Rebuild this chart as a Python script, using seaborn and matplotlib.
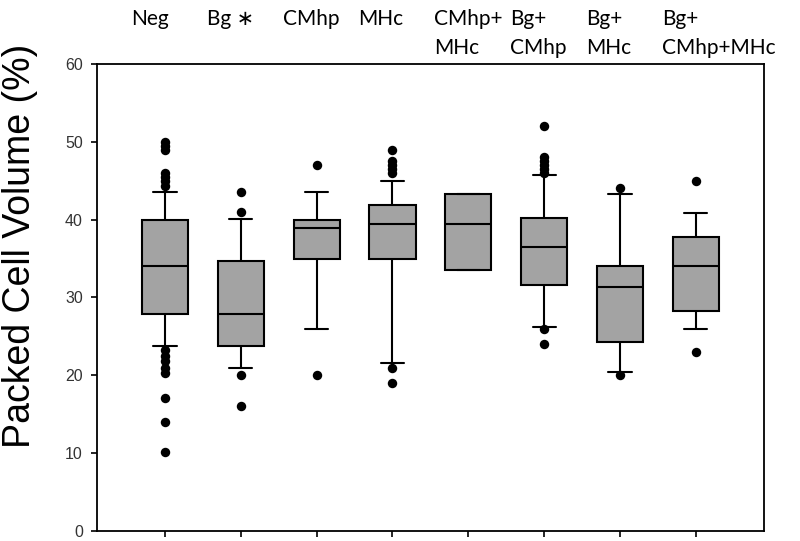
import numpy as np
import pandas as pd
import matplotlib
matplotlib.use('Agg')
import matplotlib.pyplot as plt
import seaborn as sns

# ── Data ─────────────────────────────────────────────────────────────────────
groups = ['Neg', 'Bg*', 'CMhp', 'MHc', 'CMhp+MHc', 'Bg+CMhp', 'Bg+MHc', 'Bg+CMhp+MHc']
header_labels = ['Neg', 'Bg \u2217', 'CMhp', 'MHc', 'CMhp+\nMHc', 'Bg+\nCMhp',
                 'Bg+\nMHc', 'Bg+\nCMhp+MHc']

whisker_low  = [23.8, 20.9, 25.9, 21.6, 33.5, 26.2, 20.4, 25.9]
q1           = [27.9, 23.8, 35.0, 35.0, 33.5, 31.6, 24.3, 28.3]
median       = [34.1, 27.9, 38.9, 39.5, 39.5, 36.5, 31.4, 34.1]
q3           = [40.0, 34.7, 40.0, 41.9, 43.3, 40.2, 34.0, 37.8]
whisker_high = [43.6, 40.1, 43.6, 45.0, 43.3, 45.7, 43.3, 40.9]

outliers = {
    'Neg':         [50.0, 49.5, 49.0, 46.0, 45.5, 45.0, 44.3,
                    23.2, 22.5, 21.8, 21.0, 20.3, 17.1, 14.0, 10.1],
    'Bg*':         [43.5, 41.0, 20.0, 16.1],
    'CMhp':        [47.0, 20.0],
    'MHc':         [49.0, 47.5, 47.0, 46.5, 46.0, 20.9, 19.0],
    'CMhp+MHc':    [],
    'Bg+CMhp':     [52.0, 48.0, 47.5, 47.0, 46.5, 46.0, 26.0, 24.0],
    'Bg+MHc':      [44.1, 20.0],
    'Bg+CMhp+MHc': [45.0, 23.0],
}

# five-number summaries -> long table, whiskers at min/max
box_rows = []
for i, g in enumerate(groups):
    for v in (whisker_low[i], q1[i], median[i], q3[i], whisker_high[i]):
        box_rows.append({'group': g, 'pcv': v})
box_df = pd.DataFrame(box_rows)
out_df = pd.DataFrame([{'group': g, 'pcv': v} for g in groups for v in outliers[g]])

# ── Figure ───────────────────────────────────────────────────────────────────
sns.set_style('ticks')
plt.rcParams['font.family'] = ['Liberation Sans', 'DejaVu Sans']

fig = plt.figure(figsize=(8, 5.41), dpi=100)
ax = fig.add_axes([0.121, 0.0185, 0.834, 0.8632])

sns.boxplot(data=box_df, x='group', y='pcv', order=groups, ax=ax,
            whis=(0, 100), width=0.61, color='#a3a3a3', saturation=1,
            linecolor='black', linewidth=1.5, showfliers=False)
sns.stripplot(data=out_df, x='group', y='pcv', order=groups, ax=ax,
              jitter=False, color='black', size=6.8, linewidth=0)

ax.set_xlim(-0.9, 7.9)
ax.set_ylim(0, 60)
ax.set_yticks(range(0, 61, 10))
ax.set_yticklabels([str(v) for v in range(0, 61, 10)], fontsize=11.5,
                   color='#333333')
ax.set_xlabel('')
ax.set_xticklabels([])
ax.set_ylabel('Packed Cell Volume (%)', fontsize=27, color='black')
ax.yaxis.set_label_coords(-0.088, 0.61)
ax.tick_params(axis='y', length=4, width=1.2, color='black', pad=6)
ax.tick_params(axis='x', length=4, width=1.2, color='black')
for s in ax.spines.values():
    s.set_visible(True)
    s.set_linewidth(1.3)
    s.set_color('black')

# group names above the plot
for i, lab in enumerate(header_labels):
    ax.text(i - 0.45, 1.118, lab, transform=ax.get_xaxis_transform(),
            ha='left', va='top', fontsize=15, family=['Lato', 'DejaVu Sans'],
            linespacing=1.55, color='black')

plt.savefig('out.png', dpi=100, facecolor='white')
